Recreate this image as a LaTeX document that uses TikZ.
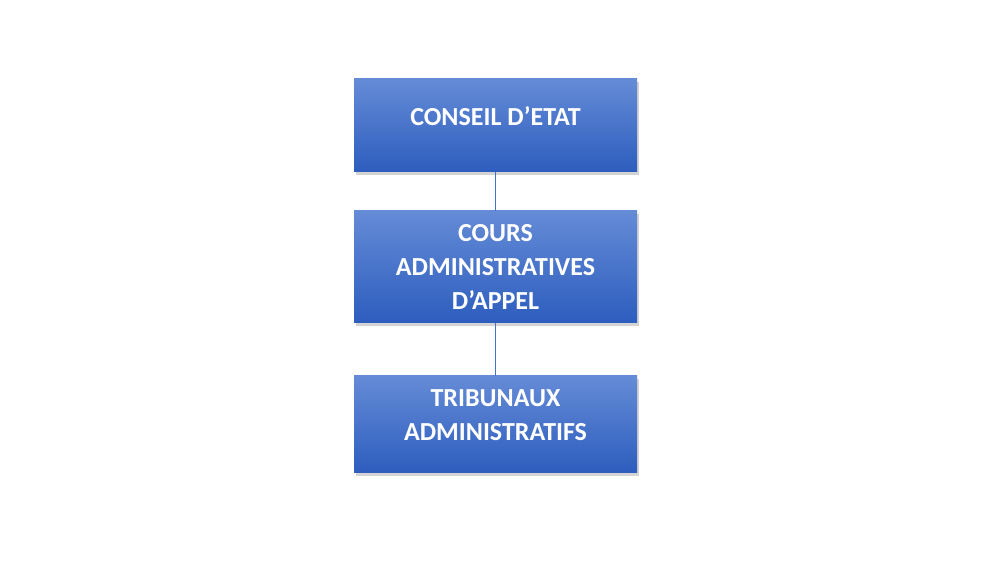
\documentclass[tikz,border=0pt]{standalone}
\usepackage{fontspec}
\setmainfont{Carlito}
\usetikzlibrary{shapes, positioning, shadows}
\definecolor{boxtop}{RGB}{100,139,214}
\definecolor{boxbot}{RGB}{45,93,190}
\definecolor{linkblue}{RGB}{68,114,196}
\tikzstyle{court} = [rectangle, top color=boxtop, bottom color=boxbot, text=white, font=\fontsize{14.8}{19.6}\selectfont\bfseries, align=center, minimum width=5.66cm, drop shadow={shadow xshift=0.04cm, shadow yshift=-0.06cm, opacity=0.35}]
\tikzstyle{link} = [draw=linkblue, line width=0.8pt]

\begin{document}
\begin{tikzpicture}
        \useasboundingbox (0,0) rectangle (20,11.26);

        % Courts, from the top down
        \node[court, minimum height=1.86cm, text depth=0.38cm] (conseil) at (9.91, 8.75) {CONSEIL D'ETAT};
        \node[court, minimum height=2.24cm] (cours) at (9.91, 5.92) {COURS\\ADMINISTRATIVES\\D'APPEL};
        \node[court, minimum height=1.94cm, text depth=0.38cm] (tribunaux) at (9.91, 2.77) {TRIBUNAUX\\ADMINISTRATIFS};

        \draw[link] (conseil) -- (cours);
        \draw[link] (cours) -- (tribunaux);
    \end{tikzpicture}
\end{document}
